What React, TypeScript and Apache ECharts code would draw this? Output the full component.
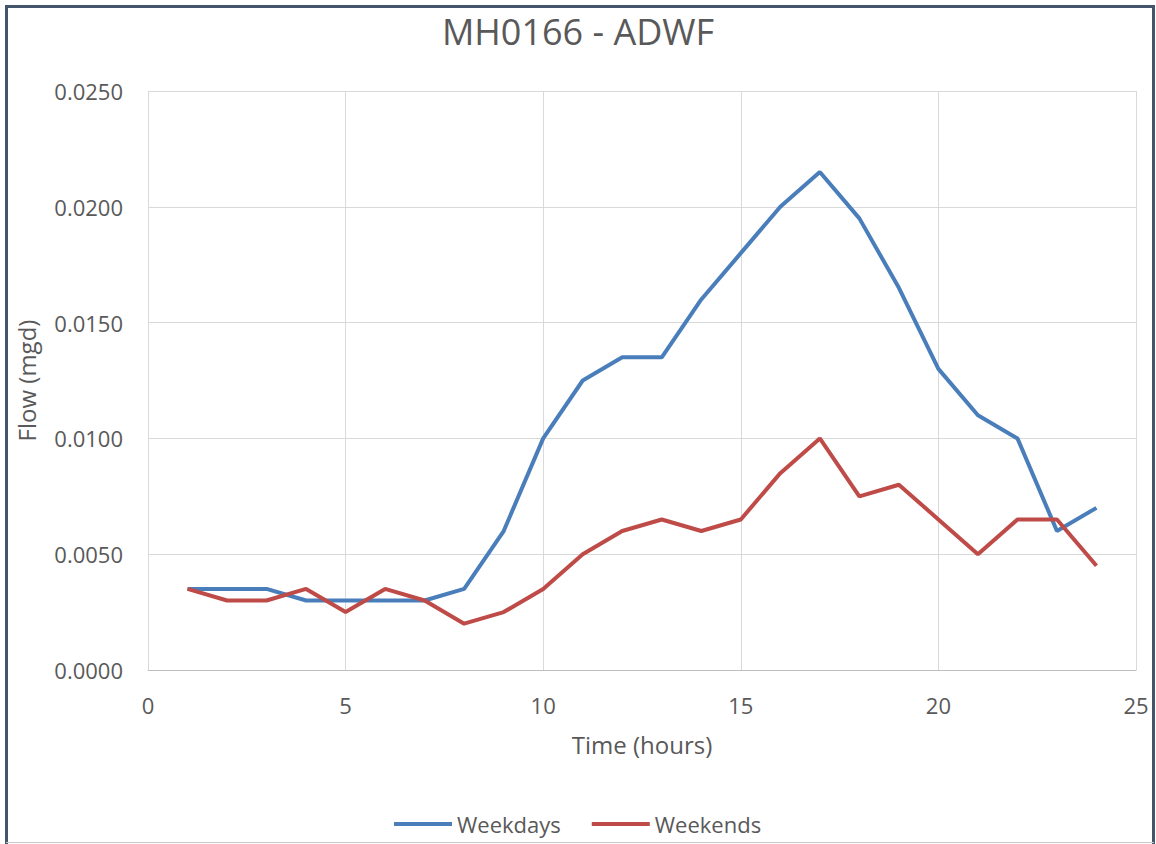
import React, { useEffect, useRef } from "react";
import * as echarts from "echarts";

const hours = [1, 2, 3, 4, 5, 6, 7, 8, 9, 10, 11, 12, 13, 14, 15, 16, 17, 18, 19, 20, 21, 22, 23, 24];
const weekdays = [0.0035, 0.0035, 0.0035, 0.003, 0.003, 0.003, 0.003, 0.0035, 0.006, 0.01, 0.0125, 0.0135, 0.0135, 0.016, 0.018, 0.02, 0.0215, 0.0195, 0.0165, 0.013, 0.011, 0.01, 0.006, 0.007];
const weekends = [0.0035, 0.003, 0.003, 0.0035, 0.0025, 0.0035, 0.003, 0.002, 0.0025, 0.0035, 0.005, 0.006, 0.0065, 0.006, 0.0065, 0.0085, 0.01, 0.0075, 0.008, 0.0065, 0.005, 0.0065, 0.0065, 0.0045];

const FONT = "'Open Sans', sans-serif";
const TXT = "#595959";

export default function App() {
  const ref = useRef<HTMLDivElement>(null);
  useEffect(() => {
    const chart = echarts.init(ref.current!, undefined, { renderer: "svg" });
    chart.setOption({
      animation: false,
      backgroundColor: "#ffffff",
      textStyle: { fontFamily: FONT },
      title: {
        text: "MH0166 - ADWF",
        left: "center",
        top: 8,
        textStyle: { fontFamily: FONT, fontSize: 36, fontWeight: "normal", color: TXT },
      },
      legend: {
        left: 389,
        top: 808,
        icon: "rect",
        itemWidth: 58,
        itemHeight: 4,
        itemGap: 31,
        textStyle: { fontFamily: FONT, fontSize: 22, color: TXT },
        data: ["Weekdays", "Weekends"],
      },
      grid: { left: 148, right: 20, top: 91, bottom: 174, containLabel: false, outerBoundsMode: "none" },
      xAxis: {
        type: "value",
        min: 0,
        max: 25,
        interval: 5,
        name: "Time (hours)",
        nameLocation: "middle",
        nameGap: 62,
        nameTextStyle: { fontFamily: FONT, fontSize: 24, color: TXT },
        axisLine: { show: true, lineStyle: { color: "#bfbfbf", width: 1 } },
        axisTick: { show: false },
        axisLabel: { fontFamily: FONT, fontSize: 22, color: TXT, margin: 24 },
        splitLine: { show: true, lineStyle: { color: "#d9d9d9", width: 1 } },
      },
      yAxis: {
        type: "value",
        min: 0,
        max: 0.025,
        interval: 0.005,
        name: "Flow (mgd)",
        nameLocation: "middle",
        nameGap: 110,
        nameTextStyle: { fontFamily: FONT, fontSize: 24, color: TXT },
        axisLine: { show: true, lineStyle: { color: "#d9d9d9", width: 1 } },
        axisTick: { show: false },
        axisLabel: {
          fontFamily: FONT,
          fontSize: 22,
          color: TXT,
          margin: 25,
          formatter: (v: number) => v.toFixed(4),
        },
        splitLine: { show: true, lineStyle: { color: "#d9d9d9", width: 1 } },
      },
      series: [
        {
          name: "Weekdays",
          type: "line",
          symbol: "none",
          data: hours.map((h, i) => [h, weekdays[i]]),
          lineStyle: { color: "#4a7ebb", width: 4 },
          itemStyle: { color: "#4a7ebb" },
        },
        {
          name: "Weekends",
          type: "line",
          symbol: "none",
          data: hours.map((h, i) => [h, weekends[i]]),
          lineStyle: { color: "#be4b48", width: 4 },
          itemStyle: { color: "#be4b48" },
        },
      ],
      graphic: [
        {
          type: "polyline",
          silent: true,
          shape: { points: [[6.5, 844], [6.5, 6.5], [1153.5, 6.5], [1153.5, 844]] },
          style: { stroke: "#44546a", lineWidth: 3, fill: null },
        },
        {
          type: "line",
          silent: true,
          shape: { x1: 6, y1: 842.5, x2: 1154, y2: 842.5 },
          style: { stroke: "#c8c8c8", lineWidth: 1 },
        },
      ],
    });
    return () => chart.dispose();
  }, []);
  return (
    <div
      ref={ref}
      style={{ position: "absolute", left: 0, top: 0, width: 1156, height: 844 }}
    />
  );
}
